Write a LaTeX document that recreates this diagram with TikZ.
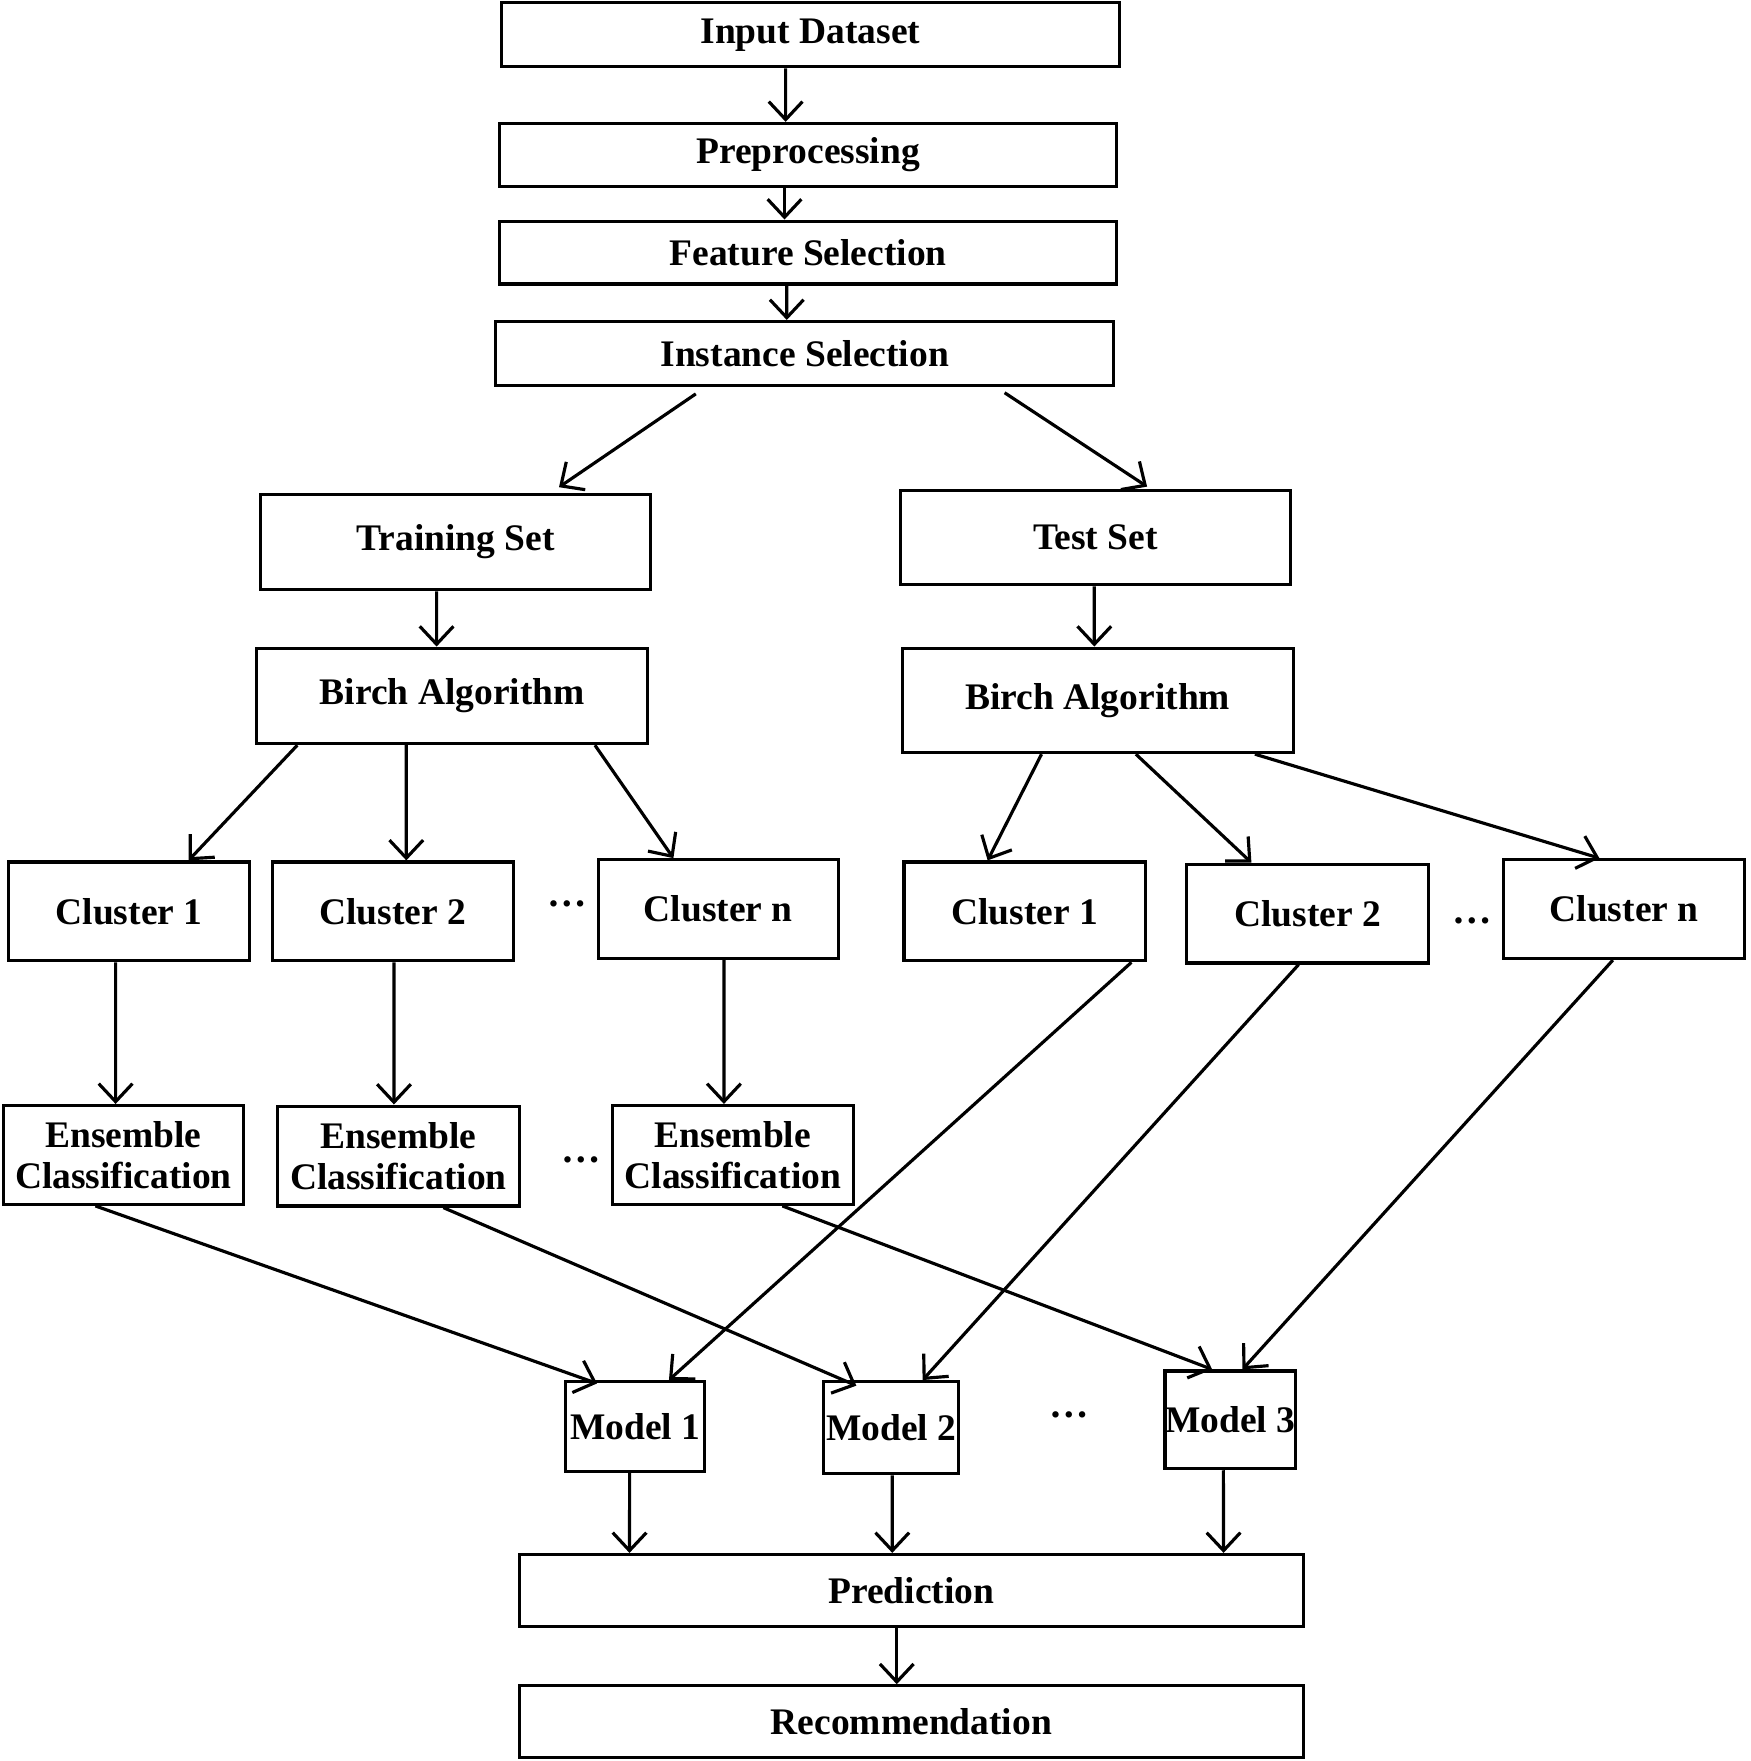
\documentclass[tikz,border=0pt]{standalone}
\usepackage{fontspec}
\setmainfont{Liberation Serif}
\usetikzlibrary{arrows.meta}
\tikzset{
  box/.style={draw, line width=0.8pt, inner sep=0pt, align=center,
    font=\fontsize{9.5}{10.5}\selectfont\bfseries},
  arr/.style={line width=0.8pt, -{Straight Barb[length=1.6mm,width=3mm]}}
}
\begin{document}
\begin{tikzpicture}[x=0.01cm, y=-0.01cm]
        \useasboundingbox (0,0) rectangle (1560,1569);
        % the top chain
        \node[box, minimum width=5.5cm, minimum height=0.57cm] (input) at (722,31) {Input Dataset};
        \node[box, minimum width=5.49cm, minimum height=0.56cm] (prep) at (720,138) {Preprocessing};
        \node[box, minimum width=5.49cm, minimum height=0.56cm] (feat) at (720,225) {Feature Selection};
        \node[box, minimum width=5.5cm, minimum height=0.57cm] (inst) at (717,315) {Instance Selection};

        % the two sets
        \node[box, minimum width=3.47cm, minimum height=0.85cm] (train) at (406,483) {Training Set};
        \node[box, minimum width=3.47cm, minimum height=0.84cm] (test) at (976,479) {Test Set};
        \node[box, minimum width=3.48cm, minimum height=0.85cm] (birchL) at (403,620) {Birch Algorithm};
        \node[box, minimum width=3.48cm, minimum height=0.93cm] (birchR) at (978,624) {Birch Algorithm};

        % the clusters
        \node[box, minimum width=2.14cm, minimum height=0.88cm] (c1L) at (115,812) {Cluster 1};
        \node[box, minimum width=2.15cm, minimum height=0.88cm] (c2L) at (350,812) {Cluster 2};
        \node[box, minimum width=2.14cm, minimum height=0.88cm] (cnL) at (640,810) {Cluster n};
        \node[box, minimum width=2.15cm, minimum height=0.88cm] (c1R) at (913,812) {Cluster 1};
        \node[box, minimum width=2.15cm, minimum height=0.88cm] (c2R) at (1165,814) {Cluster 2};
        \node[box, minimum width=2.15cm, minimum height=0.88cm] (cnR) at (1447,810) {Cluster n};
        \node (dotsA) at (505,805) {\bfseries\dots};
        \node (dotsB) at (1312,820) {\bfseries\dots};

        % the ensembles
        \node[box, minimum width=2.14cm, minimum height=0.88cm] (e1) at (110,1029) {Ensemble\\Classification};
        \node[box, minimum width=2.15cm, minimum height=0.89cm] (e2) at (355,1030) {Ensemble\\Classification};
        \node[box, minimum width=2.14cm, minimum height=0.88cm] (en) at (653,1029) {Ensemble\\Classification};
        \node (dotsC) at (518,1033) {\bfseries\dots};

        % the models
        \node[box, minimum width=1.24cm, minimum height=0.8cm] (m1) at (566,1271) {Model 1};
        \node[box, minimum width=1.2cm, minimum height=0.82cm] (m2) at (794,1272) {Model 2};
        \node[box, minimum width=1.13cm, minimum height=0.87cm] (m3) at (1096,1265) {Model 3};
        \node (dotsD) at (953,1261) {\bfseries\dots};

        % the end
        \node[box, minimum width=6.98cm, minimum height=0.64cm] (pred) at (812,1417) {Prediction};
        \node[box, minimum width=6.98cm, minimum height=0.64cm] (rec) at (812,1534) {Recommendation};

        % draw the arrows
        \draw[arr] ([xshift=-0.22cm]input.south) -- ([xshift=-0.2cm]prep.north);
        \draw[arr] ([xshift=-0.21cm]prep.south) -- ([xshift=-0.21cm]feat.north);
        \draw[arr] ([xshift=-0.19cm]feat.south) -- ([xshift=-0.16cm]inst.north);
        \draw[arr] ([xshift=-0.97cm,yshift=-0.06cm]inst.south) -- ([xshift=0.92cm,yshift=0.05cm]train.north);
        \draw[arr] ([xshift=1.78cm,yshift=-0.05cm]inst.south) -- ([xshift=0.46cm,yshift=0.02cm]test.north);
        \draw[arr] ([xshift=-0.17cm]train.south) -- ([xshift=-0.14cm]birchL.north);
        \draw[arr] ([xshift=-0.01cm]test.south) -- ([xshift=-0.03cm]birchR.north);
        \draw[arr] ([xshift=-1.38cm]birchL.south) -- ([xshift=0.53cm]c1L.north);
        \draw[arr] ([xshift=-0.41cm]birchL.south) -- ([xshift=0.12cm]c2L.north);
        \draw[arr] ([xshift=1.27cm]birchL.south) -- ([xshift=-0.4cm]cnL.north);
        \draw[arr] ([xshift=-0.5cm]birchR.south) -- ([xshift=-0.33cm]c1R.north);
        \draw[arr] ([xshift=0.34cm]birchR.south) -- ([xshift=-0.5cm]c2R.north);
        \draw[arr] ([xshift=1.4cm]birchR.south) -- ([xshift=-0.22cm]cnR.north);
        \draw[arr] ([xshift=-0.12cm]c1L.south) -- ([xshift=-0.07cm]e1.north);
        \draw[arr] ([xshift=0.01cm]c2L.south) -- ([xshift=-0.04cm]e2.north);
        \draw[arr] ([xshift=0.05cm]cnL.south) -- ([xshift=-0.08cm]en.north);
        \draw[arr] ([xshift=-0.25cm]e1.south) -- ([xshift=-0.34cm,yshift=-0.03cm]m1.north);
        \draw[arr] ([xshift=0.4cm]e2.south) -- ([xshift=-0.31cm,yshift=-0.05cm]m2.north);
        \draw[arr] ([xshift=0.44cm]en.south) -- ([xshift=-0.16cm]m3.north);
        \draw[arr] ([xshift=0.95cm]c1R.south) -- ([xshift=0.3cm]m1.north);
        \draw[arr] ([xshift=-0.08cm]c2R.south) -- ([xshift=0.28cm]m2.north);
        \draw[arr] ([xshift=-0.1cm]cnR.south) -- ([xshift=0.11cm]m3.north);
        \draw[arr] ([xshift=-0.05cm]m1.south) -- ([xshift=-2.51cm]pred.north);
        \draw[arr] ([xshift=0.01cm]m2.south) -- ([xshift=-0.17cm]pred.north);
        \draw[arr] ([xshift=-0.06cm]m3.south) -- ([xshift=2.78cm]pred.north);
        \draw[arr] ([xshift=-0.13cm]pred.south) -- ([xshift=-0.13cm]rec.north);

    \end{tikzpicture}
\end{document}
